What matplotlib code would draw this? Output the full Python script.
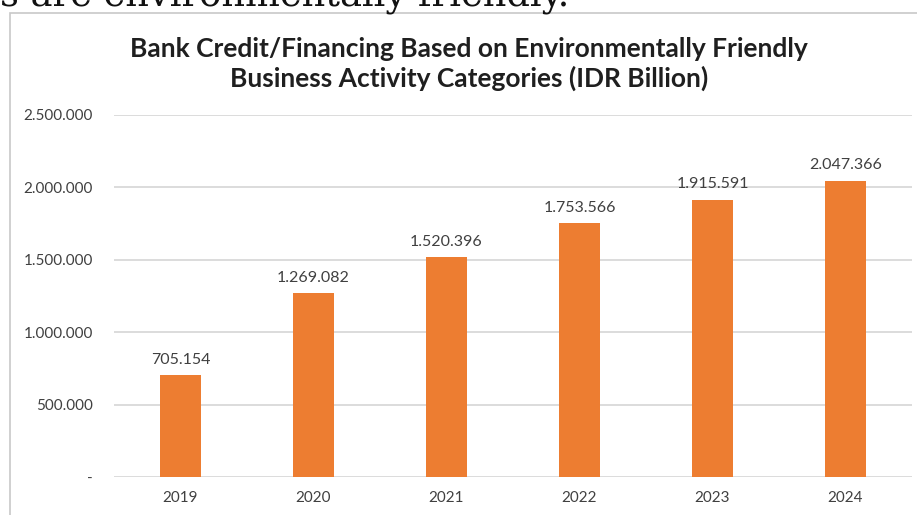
import matplotlib.pyplot as plt
from matplotlib.patches import Rectangle
from matplotlib.ticker import FuncFormatter

years = ["2019", "2020", "2021", "2022", "2023", "2024"]
credit = [705154, 1269082, 1520396, 1753566, 1915591, 2047366]
yticks = [0, 500000, 1000000, 1500000, 2000000, 2500000]

orange = "#ED7D31"
txt = "#404040"

plt.rcParams["font.family"] = ["Lato", "DejaVu Sans"]


def dots(v, pos=None):
    if v == 0:
        return "-"
    return f"{int(round(v)):,}".replace(",", ".")


fig = plt.figure(figsize=(9.17, 5.15), dpi=100)

# text of the page above the chart, cut off at the top
fig.text(0, 1 - 5.5 / 515, "s are environmentally friendly.", family="DejaVu Serif",
         fontsize=26.5, ha="left", va="baseline", color="#111111")

# chart frame
fig.patches.append(Rectangle((10 / 917, -0.2), 1.2, 1 - 12.5 / 515 + 0.2,
                             transform=fig.transFigure, fill=False,
                             edgecolor="#c8c8c8", linewidth=1.2))

ax = fig.add_axes([114 / 917, 1 - 477 / 515, 798 / 917, 362 / 515])
x = range(len(years))
ax.bar(x, credit, width=0.31, color=orange, zorder=3)
ax.set_xlim(-0.5, len(years) - 0.5)
ax.set_ylim(0, 2500000)
ax.set_yticks(yticks)
ax.yaxis.set_major_formatter(FuncFormatter(dots))
ax.set_xticks(list(x))
ax.set_xticklabels(years)
ax.grid(axis="y", color="#d9d9d9", linewidth=1.3, zorder=0)
for s in ax.spines.values():
    s.set_visible(False)
ax.tick_params(axis="y", length=0, pad=15, labelsize=11, labelcolor=txt)
ax.tick_params(axis="x", length=0, pad=10, labelsize=11, labelcolor=txt)

for i, v in enumerate(credit):
    ax.annotate(dots(v), (i, v), xytext=(0, 6), textcoords="offset points",
                ha="center", va="bottom", fontsize=11.5, color=txt)

fig.text(469 / 917, 1 - 64 / 515,
         "Bank Credit/Financing Based on Environmentally Friendly\nBusiness Activity Categories (IDR Billion)",
         ha="center", va="center", fontsize=19, fontweight="bold", color="#1f1f1f",
         linespacing=1.2)

fig.savefig("out.png", dpi=100)
